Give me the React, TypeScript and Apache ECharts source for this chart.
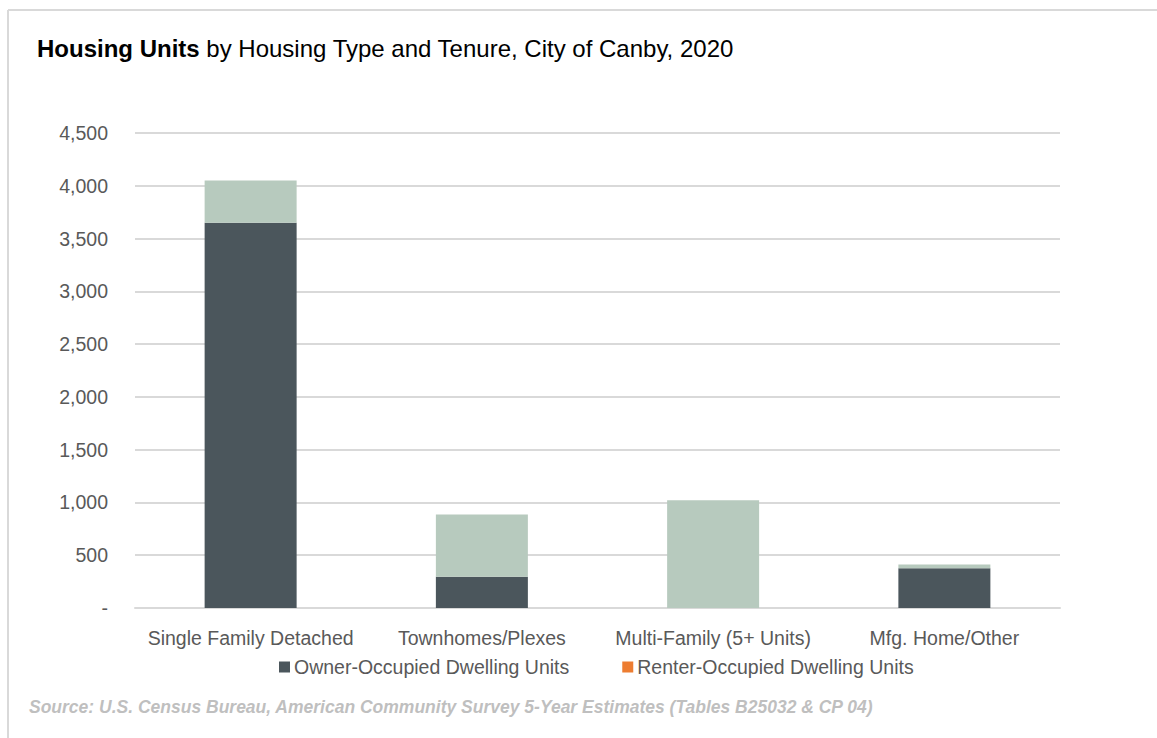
import React, { useEffect, useRef } from "react";
import * as echarts from "echarts";

const categories = ["Single Family Detached", "Townhomes/Plexes", "Multi-Family (5+ Units)", "Mfg. Home/Other"];
const ownerValues = [3650, 295, 0, 377];
const renterValues = [400, 590, 1020, 35];
const seriesNames = ["Owner-Occupied Dwelling Units", "Renter-Occupied Dwelling Units"];
const yTicks = { min: 0, max: 4500, interval: 500 };

const FONT = "'Liberation Sans Narrow', 'Arial Narrow', 'Liberation Sans', Arial, sans-serif";

export default function App() {
  const ref = useRef<HTMLDivElement>(null);
  useEffect(() => {
    if (!ref.current) return;
    const chart = echarts.init(ref.current, undefined, { renderer: "svg" });
    chart.setOption({
      animation: false,
      backgroundColor: "#ffffff",
      textStyle: { fontFamily: FONT },
      title: {
        text: "{b|Housing Units} by Housing Type and Tenure, City of Canby, 2020",
        left: 32,
        top: 31,
        textStyle: {
          fontFamily: FONT,
          fontSize: 24,
          fontWeight: "normal",
          color: "#000000",
          rich: {
            b: { fontFamily: FONT, fontSize: 24, fontWeight: "bold", color: "#000000" },
          },
        },
      },
      legend: {
        data: [
          { name: seriesNames[0], itemStyle: { color: "#4b565c" } },
          { name: seriesNames[1], itemStyle: { color: "#ed7d31" } },
        ],
        left: 274,
        top: 652,
        icon: "rect",
        itemWidth: 11,
        itemHeight: 11,
        itemGap: 53,
        textStyle: { fontFamily: FONT, fontSize: 19.5, color: "#595959", padding: [0, 0, 0, -1] },
        selectedMode: false,
      },
      grid: { left: 135, right: 97, top: 133, bottom: 130, containLabel: false },
      xAxis: {
        type: "category",
        data: categories,
        axisLine: { show: true, lineStyle: { color: "#d9d9d9", width: 2 } },
        axisTick: { show: false },
        axisLabel: { fontFamily: FONT, fontSize: 19.5, color: "#595959", margin: 20, interval: 0 },
      },
      yAxis: {
        type: "value",
        min: yTicks.min,
        max: yTicks.max,
        interval: yTicks.interval,
        axisLine: { show: false },
        axisTick: { show: false },
        splitLine: { lineStyle: { color: "#d9d9d9", width: 2 } },
        axisLabel: {
          fontFamily: FONT,
          fontSize: 19.5,
          color: "#595959",
          margin: 27,
          formatter: (v: number) => (v === 0 ? "-" : v.toLocaleString("en-US")),
        },
      },
      series: [
        {
          name: seriesNames[0],
          type: "bar",
          stack: "total",
          data: ownerValues,
          barWidth: 92,
          itemStyle: { color: "#4b565c" },
        },
        {
          name: seriesNames[1],
          type: "bar",
          stack: "total",
          data: renterValues,
          barWidth: 92,
          itemStyle: { color: "#b7cabe" },
        },
      ],
      graphic: [
        { type: "line", shape: { x1: 8, y1: 10, x2: 1157, y2: 10 }, style: { stroke: "#d9d9d9", lineWidth: 2 } },
        { type: "line", shape: { x1: 8, y1: 10, x2: 8, y2: 738 }, style: { stroke: "#d9d9d9", lineWidth: 2 } },
        {
          type: "text",
          left: 29,
          top: 698,
          style: {
            text: "Source: U.S. Census Bureau, American Community Survey 5-Year Estimates (Tables B25032 & CP 04)",
            fontFamily: FONT,
            fontSize: 17.5,
            fontStyle: "italic",
            fontWeight: "bold",
            fill: "#bfbfbf",
          },
        },
      ],
    });
    return () => chart.dispose();
  }, []);
  return <div ref={ref} style={{ position: "fixed", left: 0, top: 0, width: 1157, height: 738 }} />;
}
